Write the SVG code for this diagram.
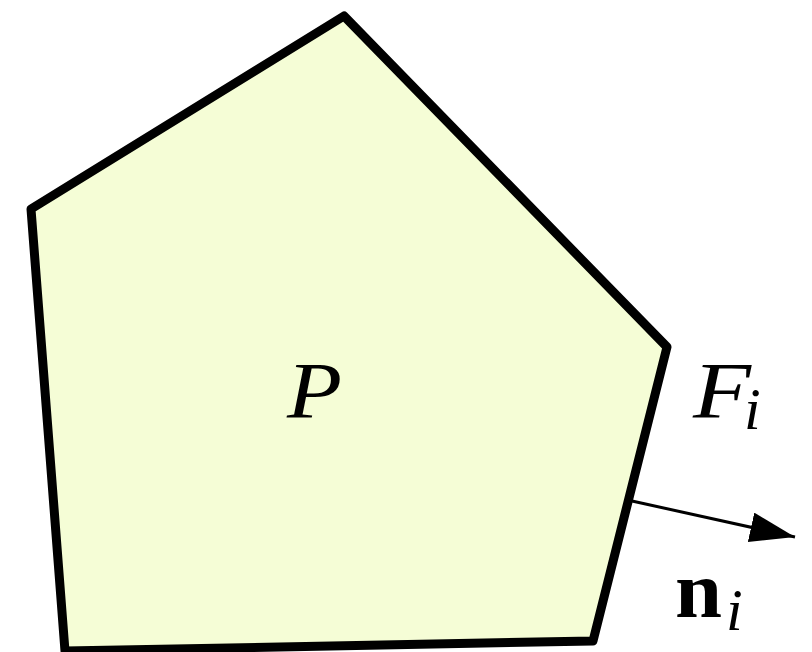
<svg xmlns="http://www.w3.org/2000/svg" width="812" height="652" viewBox="0 0 812 652">
<style>
.poly{fill:#f5fdd6;stroke:#000;stroke-width:9;stroke-linejoin:round}
.lbl{font-family:"Liberation Serif","DejaVu Serif",serif;fill:#000}
.it{font-style:italic}
.conn{stroke:#000;stroke-width:3;fill:none}
</style>
<defs>
<marker id="ah" markerUnits="userSpaceOnUse" markerWidth="50" markerHeight="34" refX="45" refY="15" orient="auto">
<path d="M0,0 L45,15 L0,30 Z" fill="#000"/>
</marker>
</defs>
<rect width="812" height="652" fill="#fff"/>
<g id="P">
<polygon class="poly" points="344,16 667,347 593,641 65,651 31,209"/>
<text class="lbl it" x="287" y="418" font-size="81" textLength="55" lengthAdjust="spacingAndGlyphs">P</text>
</g>
<g id="Fi">
<text class="lbl it" x="693" y="418" font-size="81" textLength="58" lengthAdjust="spacingAndGlyphs">F</text>
<text class="lbl it" x="744" y="429" font-size="60">i</text>
</g>
<g id="ni">
<text class="lbl" x="675" y="617" font-size="80" font-weight="bold" textLength="47" lengthAdjust="spacingAndGlyphs">n</text>
<text class="lbl it" x="726" y="630" font-size="60">i</text>
</g>
<g id="connectors">
<line class="conn" x1="632" y1="501" x2="795" y2="537" marker-end="url(#ah)"/>
</g>
</svg>
